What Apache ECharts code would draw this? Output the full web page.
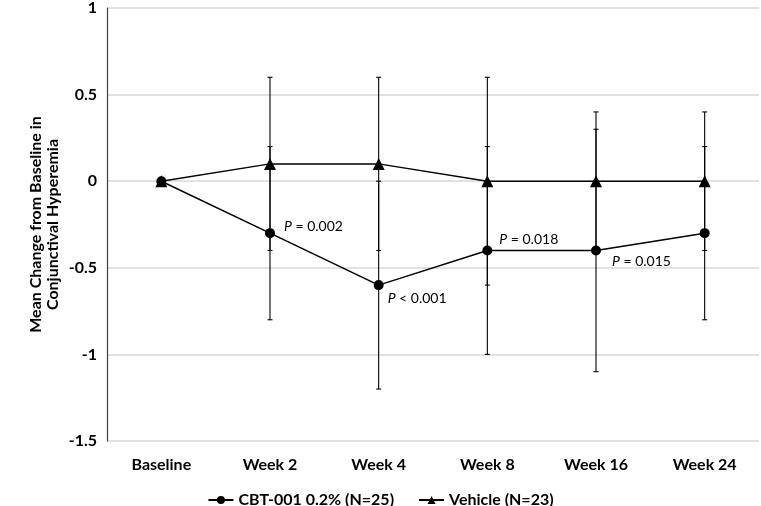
<!DOCTYPE html>
<html>
<head>
<meta charset="utf-8">
<script src="https://cdn.jsdelivr.net/npm/echarts@6/dist/echarts.min.js"></script>
<style>html,body{margin:0;padding:0;background:#fff;}#c{width:761px;height:506px;}</style>
</head>
<body>
<div id="c"></div>
<script>
var categories = ['Baseline', 'Week 2', 'Week 4', 'Week 8', 'Week 16', 'Week 24'];
var cbtMean = [0, -0.3, -0.6, -0.4, -0.4, -0.3];
var cbtLow  = [null, -0.8, -1.2, -1.0, -1.1, -0.8];
var cbtHigh = [null, 0.2, 0.0, 0.2, 0.3, 0.2];
var vehMean = [0, 0.1, 0.1, 0, 0, 0];
var vehLow  = [null, -0.4, -0.4, -0.6, -0.4, -0.4];
var vehHigh = [null, 0.6, 0.6, 0.6, 0.4, 0.4];
var pText = ['', '= 0.002', '< 0.001', '= 0.018', '= 0.015', ''];
var yTicks = [-1.5, -1, -0.5, 0, 0.5, 1];

var FONT = 'Lato';
var labelOffsets = [null, [9, -7], [4, 13], [7, -11], [11, 11], null];

function errData(low, high) {
  var out = [];
  for (var i = 0; i < low.length; i++) {
    if (low[i] !== null) out.push([i, low[i], high[i]]);
  }
  return out;
}
function renderErr(params, api) {
  var x = api.value(0);
  var lo = api.coord([x, api.value(1)]);
  var hi = api.coord([x, api.value(2)]);
  var cap = 2.5;
  var st = {stroke: '#000', lineWidth: 1.1};
  return {
    type: 'group',
    children: [
      {type: 'line', shape: {x1: lo[0], y1: lo[1], x2: hi[0], y2: hi[1]}, style: st},
      {type: 'line', shape: {x1: lo[0] - cap, y1: lo[1], x2: lo[0] + cap, y2: lo[1]}, style: st},
      {type: 'line', shape: {x1: hi[0] - cap, y1: hi[1], x2: hi[0] + cap, y2: hi[1]}, style: st}
    ]
  };
}
var cbtData = cbtMean.map(function (v, i) {
  if (!pText[i]) return v;
  return {
    value: v,
    label: {
      show: true,
      position: 'right',
      distance: 0,
      offset: labelOffsets[i],
      formatter: '{i|P} ' + pText[i],
      fontFamily: FONT, fontSize: 14, color: '#000',
      rich: {i: {fontStyle: 'italic', fontFamily: FONT, fontSize: 14, color: '#000'}}
    }
  };
});

var chart = echarts.init(document.getElementById('c'));
chart.setOption({
  animation: false,
  grid: {left: 107, right: 2, top: 7, bottom: 65, containLabel: false},
  legend: {
    data: ['CBT-001 0.2% (N=25)', 'Vehicle (N=23)'],
    top: 487,
    left: 'center',
    itemWidth: 25, itemHeight: 10, itemGap: 24,
    textStyle: {fontFamily: FONT, fontWeight: 'bold', fontSize: 16, color: '#000'}
  },
  xAxis: {
    type: 'category',
    data: categories,
    boundaryGap: true,
    axisLine: {show: false},
    axisTick: {show: false},
    axisLabel: {margin: 16, fontFamily: FONT, fontWeight: 'bold', fontSize: 16, color: '#000'}
  },
  yAxis: {
    type: 'value',
    min: yTicks[0], max: yTicks[yTicks.length - 1], interval: 0.5,
    name: 'Mean Change from Baseline in\nConjunctival Hyperemia',
    nameLocation: 'middle',
    nameGap: 46,
    nameMoveOverlap: false,
    nameTextStyle: {fontFamily: FONT, fontWeight: 'bold', fontSize: 16, color: '#000', lineHeight: 17},
    axisLine: {show: true, lineStyle: {color: '#404040', width: 1.2}},
    axisTick: {show: false},
    axisLabel: {margin: 10, fontFamily: FONT, fontWeight: 'bold', fontSize: 16, color: '#000'},
    splitLine: {lineStyle: {color: '#d9d9d9', width: 1.5}}
  },
  series: [
    {type: 'custom', name: 'errCBT', renderItem: renderErr, data: errData(cbtLow, cbtHigh), z: 1, silent: true},
    {type: 'custom', name: 'errVeh', renderItem: renderErr, data: errData(vehLow, vehHigh), z: 1, silent: true},
    {
      type: 'line', name: 'CBT-001 0.2% (N=25)', data: cbtData, z: 3,
      symbol: 'circle', symbolSize: 10,
      itemStyle: {color: '#000'},
      lineStyle: {color: '#000', width: 1.5}
    },
    {
      type: 'line', name: 'Vehicle (N=23)', data: vehMean, z: 3,
      symbol: 'triangle', symbolSize: 12,
      itemStyle: {color: '#000'},
      lineStyle: {color: '#000', width: 1.5}
    }
  ]
});
</script>
</body>
</html>
